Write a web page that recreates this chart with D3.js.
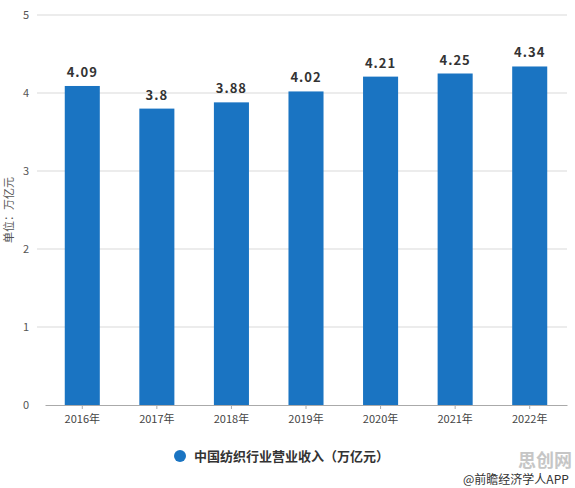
<!DOCTYPE html>
<html>
<head>
<meta charset="utf-8">
<script src="https://cdn.jsdelivr.net/npm/d3@7"></script>
<style>
  body { margin: 0; background: #fff; }
  text { font-family: "Noto Sans CJK SC", "DejaVu Sans", sans-serif; }
</style>
</head>
<body>
<script>
const years = ['2016年', '2017年', '2018年', '2019年', '2020年', '2021年', '2022年'];
const revenue = [4.09, 3.8, 3.88, 4.02, 4.21, 4.25, 4.34];
const yTicks = [0, 1, 2, 3, 4, 5];
const seriesName = '中国纺织行业营业收入（万亿元）';
const unitLabel = '单位：万亿元';
const sourceLabel = '@前瞻经济学人APP';

const width = 575;
const height = 488;
const margin = {top: 15, right: 8, bottom: 83, left: 45};

const svg = d3.select('body').append('svg')
    .attr('width', width)
    .attr('height', height);

const x = d3.scaleBand()
    .domain(years)
    .range([margin.left, width - margin.right])
    .paddingInner(0.53)
    .paddingOuter(0.265);

const y = d3.scaleLinear()
    .domain([0, 5])
    .range([height - margin.bottom, margin.top]);

// gridlines
svg.append('g').selectAll('line')
  .data(yTicks.filter(d => d > 0))
  .enter().append('line')
  .attr('x1', 37)
  .attr('x2', width - margin.right)
  .attr('y1', d => y(d))
  .attr('y2', d => y(d))
  .attr('stroke', '#d9d9d9')
  .attr('stroke-width', 1);

// y tick labels
svg.append('g').selectAll('text')
  .data(yTicks)
  .enter().append('text')
  .attr('x', 29)
  .attr('y', d => y(d) + 4)
  .attr('text-anchor', 'end')
  .style('font-size', '11px')
  .style('fill', '#555')
  .text(d => d);

// unit label
svg.append('text')
  .attr('transform', `translate(13,${(y(0) + y(5)) / 2}) rotate(-90)`)
  .attr('text-anchor', 'middle')
  .style('font-size', '11px')
  .style('fill', '#555')
  .text(unitLabel);

// bars
svg.append('g').selectAll('rect')
  .data(revenue)
  .enter().append('rect')
  .attr('x', (d, i) => x(years[i]))
  .attr('y', d => y(d))
  .attr('width', x.bandwidth())
  .attr('height', d => y(0) - y(d))
  .attr('fill', '#1a74c2');

// value labels
svg.append('g').selectAll('text')
  .data(revenue)
  .enter().append('text')
  .attr('x', (d, i) => x(years[i]) + x.bandwidth() / 2)
  .attr('y', d => y(d) - 9)
  .attr('text-anchor', 'middle')
  .style('font-size', '13px')
  .style('font-weight', 'bold')
  .style('letter-spacing', '1px')
  .style('fill', '#333')
  .text(d => d);

// x axis
const xAxis = svg.append('g')
  .attr('transform', `translate(0,${y(0)})`)
  .call(d3.axisBottom(x).tickSize(4).tickSizeOuter(0));
xAxis.select('.domain').attr('stroke', '#aaa');
xAxis.selectAll('.tick line').attr('stroke', '#aaa');
xAxis.selectAll('.tick text')
  .attr('dy', '1em')
  .style('font-family', '"Noto Sans CJK SC", sans-serif')
  .style('font-size', '11px')
  .style('fill', '#444');

// legend
const legend = svg.append('g').attr('transform', 'translate(180,456)');
legend.append('circle').attr('r', 6).attr('fill', '#1a74c2');
legend.append('text')
  .attr('x', 14)
  .attr('y', 5)
  .style('font-size', '13px')
  .style('font-weight', 'bold')
  .style('fill', '#333')
  .text(seriesName);

// site watermark
svg.append('text')
  .attr('x', 572)
  .attr('y', 467)
  .attr('text-anchor', 'end')
  .style('font-size', '18px')
  .style('font-weight', 'bold')
  .style('fill', '#b8b8b8')
  .style('opacity', 0.8)
  .text('思创网');

// source
svg.append('text')
  .attr('x', 463)
  .attr('y', 484)
  .style('font-size', '12px')
  .style('fill', '#333')
  .text(sourceLabel);
</script>
</body>
</html>
